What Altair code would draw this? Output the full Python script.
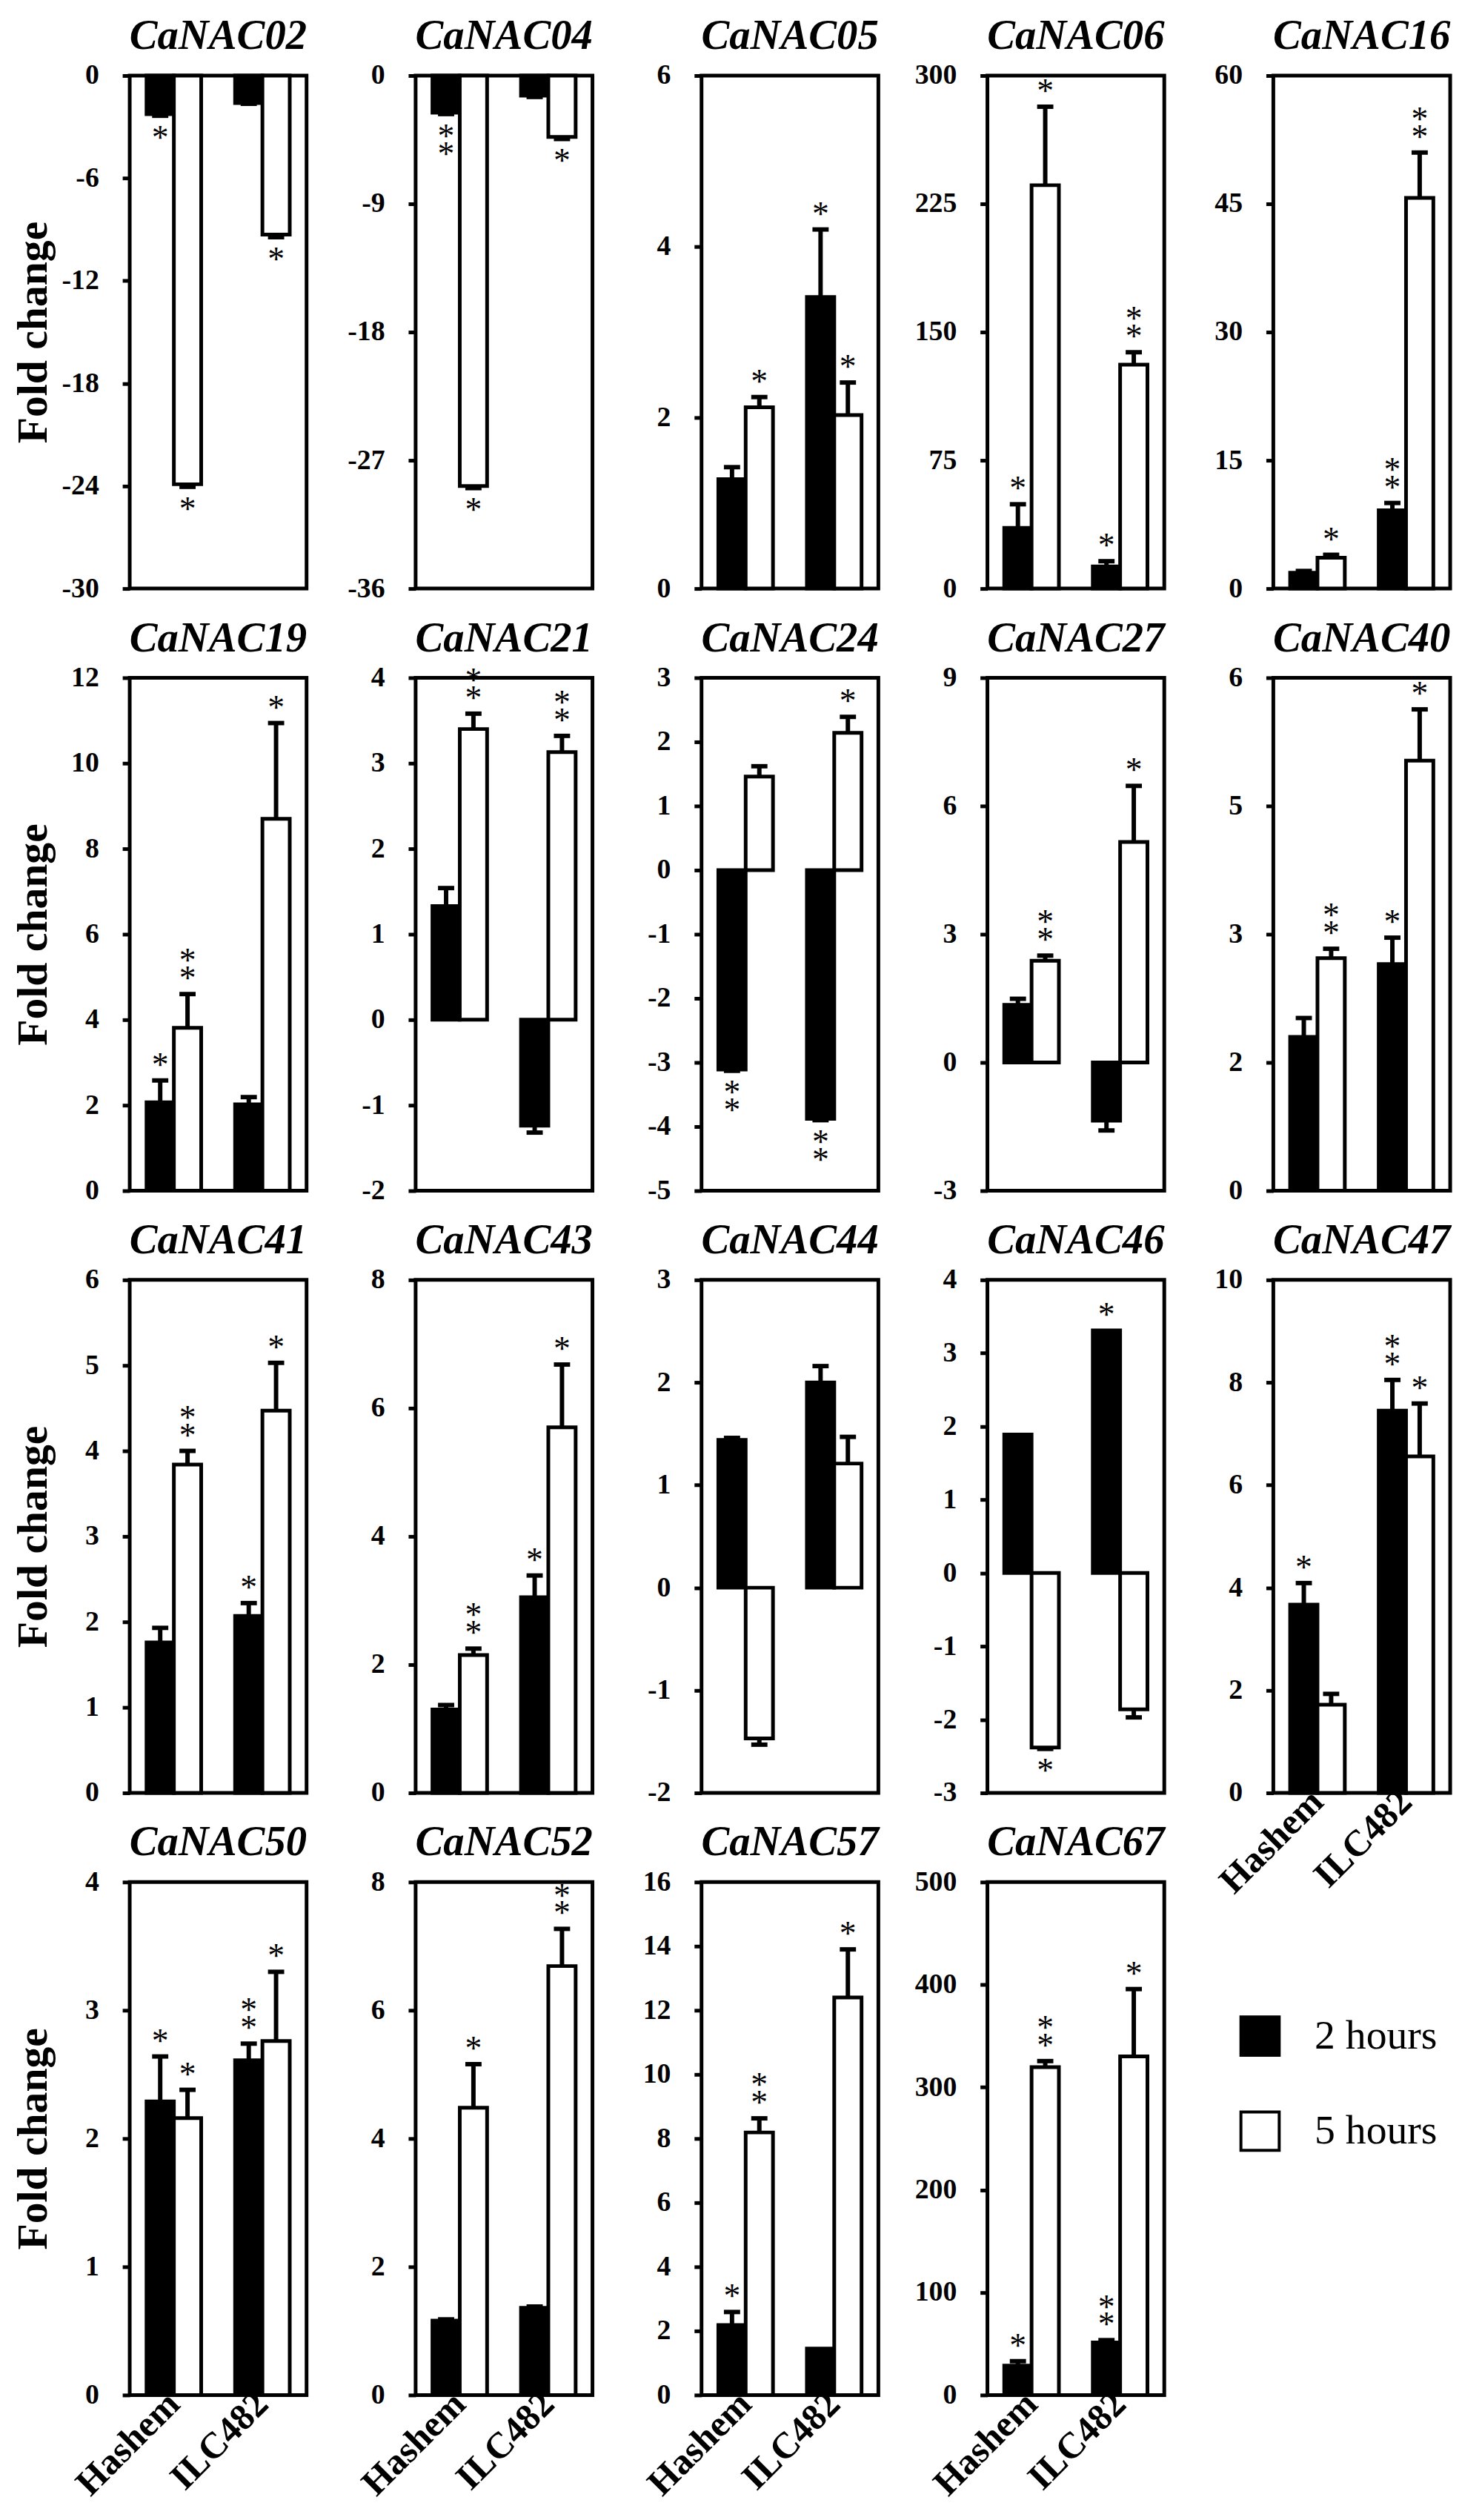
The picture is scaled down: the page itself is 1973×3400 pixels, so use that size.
import altair as alt
import pandas as pd

FONT = "Liberation Serif"

GENES = ["CaNAC02", "CaNAC04", "CaNAC05", "CaNAC06", "CaNAC16",
         "CaNAC19", "CaNAC21", "CaNAC24", "CaNAC27", "CaNAC40",
         "CaNAC41", "CaNAC43", "CaNAC44", "CaNAC46", "CaNAC47",
         "CaNAC50", "CaNAC52", "CaNAC57", "CaNAC67"]

CULTIVARS = ["Hashem", "ILC482"]
TIMES = ["2 hours", "5 hours"]

# mean fold change
HASHEM_2H = [-2.25, -2.6, 1.28, 35.5, 1.86, 2.07, 1.33, -3.11, 1.35, 1.80,
             1.76, 1.30, 1.44, 1.89, 3.67, 2.29, 1.16, 2.18, 28.6]
HASHEM_5H = [-23.9, -28.8, 2.12, 235.9, 3.6, 3.81, 3.40, 1.46, 2.38, 2.72,
             3.84, 2.15, -1.47, -2.38, 1.72, 2.16, 4.48, 8.19, 319.6]
ILC_2H = [-1.6, -1.4, 3.41, 12.9, 9.16, 2.02, -1.24, -3.88, -1.36, 2.65,
          2.07, 3.05, 2.0, 3.31, 7.45, 2.61, 1.36, 1.45, 51.2]
ILC_5H = [-9.3, -4.3, 2.03, 130.9, 45.7, 8.7, 3.13, 2.14, 5.16, 5.03,
          4.47, 5.70, 1.21, -1.86, 6.56, 2.76, 6.69, 12.4, 330.0]

# error bars
ERR_HASHEM_2H = [0.1, 0.1, 0.14, 13.8, 0.2, 0.51, 0.21, 0.02, 0.14, 0.22,
                 0.17, 0.07, 0.02, 0.0, 0.42, 0.35, 0.02, 0.41, 4.4]
ERR_HASHEM_5H = [0.15, 0.15, 0.12, 45.9, 0.35, 0.79, 0.18, 0.16, 0.12, 0.11,
                 0.16, 0.10, 0.06, 0.02, 0.21, 0.22, 0.68, 0.44, 5.9]
ERR_ILC_2H = [0.05, 0.1, 0.79, 3.1, 0.85, 0.17, 0.08, 0.02, 0.23, 0.31,
              0.15, 0.34, 0.16, 0.0, 0.60, 0.13, 0.02, 0.0, 2.3]
ERR_ILC_5H = [0.15, 0.15, 0.38, 7.3, 5.3, 2.24, 0.19, 0.25, 1.31, 0.60,
              0.56, 0.98, 0.26, 0.11, 1.03, 0.54, 0.58, 1.5, 65.7]

# number of significance asterisks
STARS_HASHEM_2H = [1, 2, 0, 1, 0, 1, 0, 2, 0, 0, 0, 0, 0, 0, 1, 1, 0, 1, 1]
STARS_HASHEM_5H = [1, 1, 1, 1, 1, 2, 2, 0, 2, 2, 2, 2, 0, 1, 0, 1, 1, 2, 2]
STARS_ILC_2H = [0, 0, 1, 1, 2, 0, 0, 2, 0, 1, 1, 1, 0, 1, 2, 2, 0, 0, 2]
STARS_ILC_5H = [1, 1, 1, 2, 2, 1, 2, 1, 1, 1, 1, 1, 0, 0, 1, 1, 2, 1, 1]

# y axis ranges
Y_MIN = [-30, -36, 0, 0, 0, 0, -2, -5, -3, 0, 0, 0, -2, -3, 0, 0, 0, 0, 0]
Y_MAX = [0, 0, 6, 300, 60, 12, 4, 3, 9, 6, 6, 8, 3, 4, 10, 4, 8, 16, 500]
Y_STEP = [6, 9, 2, 75, 15, 2, 1, 1, 3, 1.5, 1, 2, 1, 1, 2, 1, 2, 2, 100]

PANEL_W = 240
PANEL_H = 696
X_LABELED = {14, 15, 16, 17, 18}
Y_TITLED = {0, 5, 10, 15}

LEGEND = alt.Legend(
    title=None, orient="none", legendX=1506, legendY=2632,
    symbolType="square", symbolSize=2700, symbolStrokeColor="black",
    symbolStrokeWidth=4, labelFont=FONT, labelFontSize=56, labelLimit=400,
    labelFontWeight="normal", labelColor="black", labelOffset=46,
    rowPadding=61, padding=0,
)


def panel(i):
    h = PANEL_H
    vals = [HASHEM_2H[i], HASHEM_5H[i], ILC_2H[i], ILC_5H[i]]
    errs = [ERR_HASHEM_2H[i], ERR_HASHEM_5H[i], ERR_ILC_2H[i], ERR_ILC_5H[i]]
    stars = [STARS_HASHEM_2H[i], STARS_HASHEM_5H[i], STARS_ILC_2H[i], STARS_ILC_5H[i]]
    df = pd.DataFrame({
        "cultivar": ["Hashem", "Hashem", "ILC482", "ILC482"],
        "time": ["2 hours", "5 hours", "2 hours", "5 hours"],
        "value": vals, "err": errs, "stars": stars,
    })
    df["zero"] = 0.0
    df["end"] = [v + e if v >= 0 else v - e for v, e in zip(vals, errs)]

    n = int(round((Y_MAX[i] - Y_MIN[i]) / Y_STEP[i]))
    ticks = [round(Y_MIN[i] + k * Y_STEP[i], 4) for k in range(n + 1)]

    xaxis = alt.Axis(title=None, labelAngle=-45, labelFont=FONT, labelFontSize=50,
                     labelFontWeight="bold", labelColor="black", ticks=False,
                     domain=False, labelPadding=4, labelAlign="right",
                     labelBaseline="middle", grid=False,
                     labels=(i in X_LABELED))

    yaxis_kw = dict(values=ticks, labelExpr="'' + round(datum.value)", labelFont=FONT,
                    labelFontSize=38, labelFontWeight="bold", labelColor="black",
                    tickSize=10, tickWidth=5, tickColor="black", domain=False,
                    grid=False, labelPadding=32)
    if i in Y_TITLED:
        yaxis = alt.Axis(title="Fold change", titleFont=FONT, titleFontSize=58,
                         titleFontWeight="bold", titleColor="black", titleX=-113,
                         titleY=h / 2, titleBaseline="alphabetic", **yaxis_kw)
    else:
        yaxis = alt.Axis(title="", **yaxis_kw)

    xscale = alt.Scale(domain=CULTIVARS, paddingInner=0.383, paddingOuter=0.19)
    xenc = alt.X("cultivar:N", scale=xscale, axis=xaxis)
    xo = alt.XOffset("time:N", scale=alt.Scale(domain=TIMES))
    yscale = alt.Scale(domain=[Y_MIN[i], Y_MAX[i]], nice=False, zero=False)

    base = alt.Chart(df)
    bars = base.mark_bar(stroke="black", strokeWidth=5).encode(
        x=xenc,
        xOffset=xo,
        y=alt.Y("value:Q", scale=yscale, axis=yaxis),
        y2="zero:Q",
        fill=alt.Fill("time:N", scale=alt.Scale(domain=TIMES, range=["black", "white"]),
                      legend=LEGEND),
    )
    rules = base.transform_filter("datum.err > 0").mark_rule(
        color="black", strokeWidth=6).encode(
        x=xenc, xOffset=xo, y=alt.Y("value:Q", scale=yscale, axis=yaxis), y2="end:Q")
    caps = base.transform_filter("datum.err > 0").mark_tick(
        color="black", thickness=6, size=22, orient="horizontal", opacity=1).encode(
        x=xenc, xOffset=xo, y=alt.Y("end:Q", scale=yscale, axis=yaxis))

    def star_layer(cond, dy):
        return base.transform_filter(cond).mark_text(
            text="*", font=FONT, fontSize=46, color="black", baseline="alphabetic",
            align="center", dy=dy).encode(
            x=xenc, xOffset=xo, y=alt.Y("end:Q", scale=yscale, axis=yaxis))

    s1 = star_layer("datum.value >= 0 && datum.stars >= 1", -6)
    s2 = star_layer("datum.value >= 0 && datum.stars >= 2", -30)
    s3 = star_layer("datum.value < 0 && datum.stars >= 1", 45)
    s4 = star_layer("datum.value < 0 && datum.stars >= 2", 69)

    return alt.layer(bars, rules, caps, s1, s2, s3, s4).properties(
        width=PANEL_W, height=h,
        title=alt.TitleParams(GENES[i], font=FONT, fontSize=57, fontWeight="bold",
                              fontStyle="italic", color="black", offset=30, dy=70,
                              baseline="alphabetic", anchor="middle"),
    )


panels = [panel(i) for i in range(len(GENES))]

chart = alt.concat(
    *panels, columns=5, spacing=alt.RowColnumber(row=121, column=148), bounds="flush"
).properties(
    padding={"left": 6, "top": 0, "right": 5, "bottom": 5}
).configure_view(
    stroke="black", strokeWidth=5
)

chart.save("out.html", embed_options={"renderer": "svg", "actions": False})
